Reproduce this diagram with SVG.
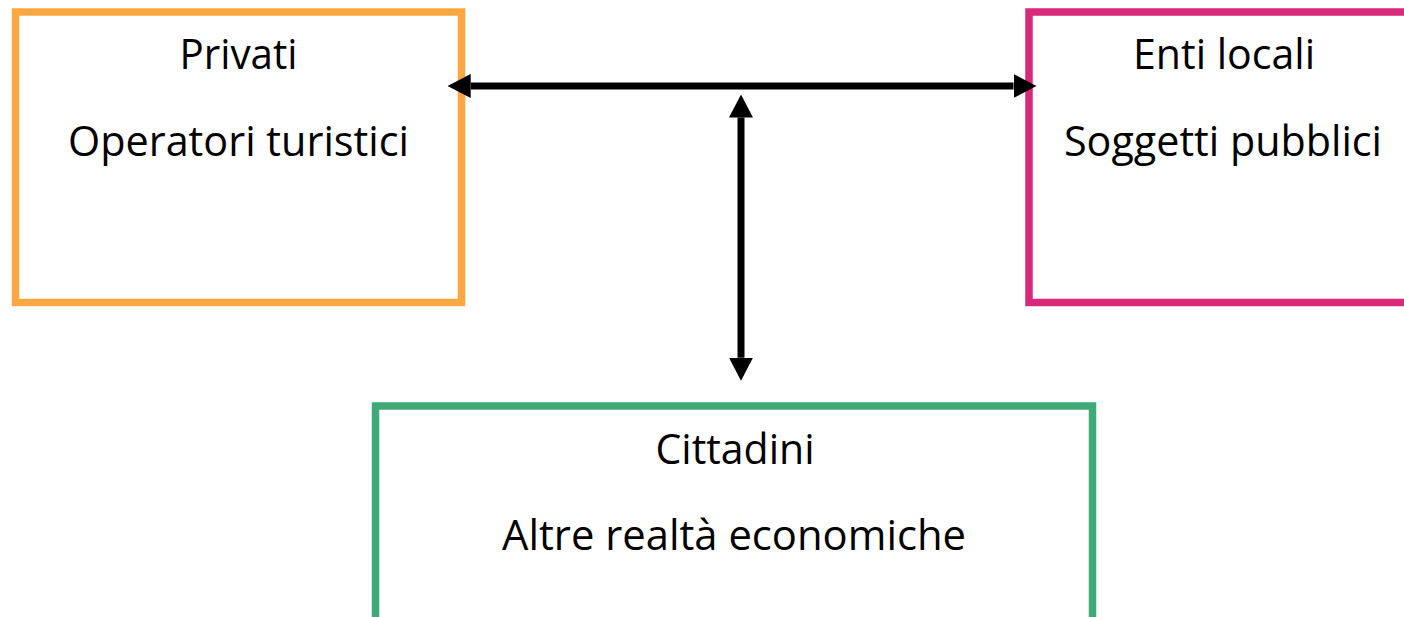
<svg xmlns="http://www.w3.org/2000/svg" width="1404" height="617" viewBox="0 0 1404 617">
<style>
.box{fill:#ffffff;stroke-width:7.5}
.t{font-family:"Open Sans","Noto Sans","Liberation Sans",sans-serif;font-size:42px;fill:#000000;text-anchor:middle}
.conn{stroke:#000000;stroke-width:7;fill:none}
</style>
<defs>
<marker id="ah" viewBox="0 0 23 24" refX="0" refY="12" markerWidth="23" markerHeight="24" markerUnits="userSpaceOnUse" orient="auto-start-reverse">
<path d="M0,0 L23,12 L0,24 Z" fill="#000000"/>
</marker>
</defs>
<rect width="1404" height="617" fill="#ffffff"/>
<g id="privati">
<rect class="box" x="15.5" y="12" width="446" height="290.5" stroke="#FBA842"/>
<text class="t" x="238.5" y="69" textLength="118" lengthAdjust="spacingAndGlyphs">Privati</text>
<text class="t" x="238.5" y="156" textLength="341" lengthAdjust="spacingAndGlyphs">Operatori turistici</text>
</g>
<g id="enti">
<rect class="box" x="1029" y="12" width="390" height="290.5" stroke="#D8297B"/>
<text class="t" x="1224" y="69" textLength="182" lengthAdjust="spacingAndGlyphs">Enti locali</text>
<text class="t" x="1223" y="156" textLength="318" lengthAdjust="spacingAndGlyphs">Soggetti pubblici</text>
</g>
<g id="cittadini">
<rect class="box" x="375.5" y="406" width="717" height="260" stroke="#3FA978"/>
<text class="t" x="735" y="464" textLength="159" lengthAdjust="spacingAndGlyphs">Cittadini</text>
<text class="t" x="734" y="550" textLength="464" lengthAdjust="spacingAndGlyphs">Altre realtà economiche</text>
</g>
<g id="connectors">
<line class="conn" x1="470.7" y1="86" x2="1013.5" y2="86" marker-start="url(#ah)" marker-end="url(#ah)"/>
<line class="conn" x1="741" y1="117.5" x2="741" y2="357.7" marker-start="url(#ah)" marker-end="url(#ah)"/>
</g>
</svg>
